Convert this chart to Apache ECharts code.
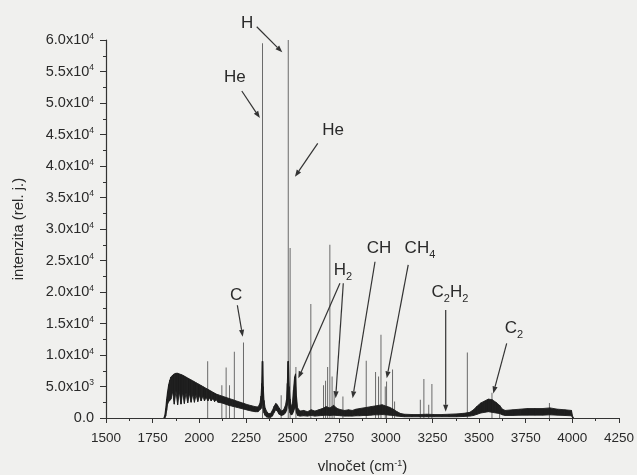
<!DOCTYPE html>
<html><head><meta charset="utf-8">
<script src="https://cdn.jsdelivr.net/npm/echarts@6/dist/echarts.min.js"></script>
<style>html,body{margin:0;padding:0;background:#f0f0ee}#c{width:637px;height:475px}</style>
</head><body><div id="c"></div>
<script>
// continuum band: wavenumber, upper edge and lower edge of the dense (noisy) trace
const bandX = [1810,1815,1820,1825,1830,1836,1842,1848,1857,1866,1875,1884,1893,1902,1911,1920,1929,1938,1947,1956,1965,1974,1983,1992,2001,2010,2019,2028,2037,2046,2055,2064,2073,2082,2091,2100,2120,2140,2160,2180,2200,2220,2240,2260,2280,2300,2315,2325,2331,2335,2338,2340,2343,2347,2353,2362,2372,2382,2392,2402,2410,2418,2428,2440,2452,2462,2468,2472,2476,2478,2482,2487,2493,2499,2505,2511,2516,2521,2527,2540,2560,2580,2600,2620,2640,2660,2680,2700,2720,2740,2760,2780,2800,2820,2840,2860,2880,2900,2920,2940,2960,2980,3000,3020,3040,3060,3080,3100,3140,3180,3220,3260,3300,3340,3380,3420,3450,3470,3490,3510,3530,3550,3570,3590,3610,3625,3640,3680,3720,3760,3800,3840,3880,3920,3960,3995,4002,4006];
const bandHigh = [0,400,1500,3000,4200,5300,6000,6500,6800,7000,7100,7100,7000,6900,6800,6650,6500,6350,6200,6050,5900,5750,5600,5450,5300,5150,5000,4850,4700,4550,4400,4250,4100,3950,3800,3700,3500,3300,3100,2900,2700,2500,2300,2100,1950,1800,1750,2300,3500,5500,9000,9000,5000,2800,1600,1000,700,700,1200,1900,2300,2100,1600,1100,1300,2000,3000,5500,9000,9000,5000,3000,1800,2200,4500,6500,7000,3500,1600,1100,1200,1000,1300,1100,1300,1500,1800,1600,2000,1500,1300,1200,1300,1200,1400,1500,1600,1700,1800,1900,2000,2100,1900,1700,1400,1000,700,600,550,550,600,550,550,600,650,750,900,1300,1900,2400,2700,3000,2900,2500,2000,1400,1200,1300,1400,1500,1500,1500,1600,1400,1300,1200,200,0];
const bandLow = [0,0,300,1200,2200,2600,2800,3000,4200,2200,4300,2100,4200,2200,4100,2300,4000,2400,3900,2500,3800,2500,3700,2600,3600,2700,3500,2700,3300,2700,3200,2700,3100,2600,2900,2500,2400,2200,2000,1850,1700,1550,1400,1250,1100,1000,1000,1300,1500,2000,3000,3000,1500,800,400,150,100,100,300,900,1300,1100,600,400,500,800,1200,2000,3000,3000,1500,800,500,600,1000,1500,1800,800,400,300,350,300,400,300,350,400,450,400,450,400,350,300,300,300,350,350,400,400,450,500,500,550,500,450,400,300,250,200,200,200,200,200,200,200,200,250,300,400,600,800,900,1000,900,800,700,500,400,400,450,450,450,450,500,450,400,350,0,0];
// sharp emission lines
const lineX = [2045,2121,2144,2162,2188,2237,2339,2439,2477,2487,2518,2598,2666,2677,2688,2700,2712,2723,2770,2895,2945,2961,2974,2997,3004,3036,3047,3185,3204,3230,3247,3437,3569,3610,3877];
const lineY = [9000,5200,8000,5200,10500,12000,59500,3600,60000,27000,8100,18100,5200,5900,8100,27500,6600,4200,3400,9100,7300,6600,13200,5000,5800,7700,2600,2900,6200,2100,5400,10400,4000,2000,2400];
// annotations: label, text anchor [x,y], arrows [[from],[to]] in data units
const annotations = [
  {t:'H', at:[2256,62700], arrows:[[[2308,62100],[2445,58050]]]},
  {t:'He', at:[2191,54100], arrows:[[[2228,51900],[2325,47600]]]},
  {t:'He', at:[2717,45700], arrows:[[[2635,43600],[2513,38300]]]},
  {t:'C', at:[2197,19400], arrows:[[[2204,17900],[2233,12900]]]},
  {t:'H{s|2}', at:[2770,23500], arrows:[[[2754,21400],[2531,6300]],[[2772,21400],[2731,3130]]]},
  {t:'CH', at:[2963,27000], arrows:[[[2942,24800],[2822,3130]]]},
  {t:'CH{s|4}', at:[3183,27000], arrows:[[[3120,24300],[3005,6300]]]},
  {t:'C{s|2}H{s|2}', at:[3344,20000], arrows:[[[3321,17150],[3321,1000]]]},
  {t:'C{s|2}', at:[3687,14300], arrows:[[[3648,11850],[3576,3900]]]}
];

function yLabel(v){
  if (v === 0) return '{a|0.0}';
  const e = Math.floor(Math.log10(v) + 1e-9);
  const m = (v / Math.pow(10, e)).toFixed(1);
  return '{a|' + m + 'x10}{s|' + e + '}';
}
// band segments table: [x0, low0, high0, x1, low1, high1]
const bandSegs = [];
for (let i = 0; i < bandX.length - 1; i++) {
  bandSegs.push([bandX[i], bandLow[i], bandHigh[i], bandX[i + 1], bandLow[i + 1], bandHigh[i + 1]]);
}
const chart = echarts.init(document.getElementById('c'));
const txt = '#2a2a2a';
const ink = '#1e1e1e';
chart.setOption({
  backgroundColor: '#f0f0ee',
  animation: false,
  grid: {left: 106, right: 18, top: 40, bottom: 57, outerBoundsMode: 'none', containLabel: false},
  xAxis: {
    type: 'value', min: 1500, max: 4250, interval: 250,
    axisLine: {lineStyle: {color: '#333', width: 1.2}},
    axisTick: {length: 5, lineStyle: {color: '#333'}},
    minorTick: {show: true, splitNumber: 2, length: 3, lineStyle: {color: '#333'}},
    splitLine: {show: false},
    axisLabel: {color: txt, fontFamily: 'Liberation Sans', fontSize: 13.5, margin: 13, formatter: v => String(v)},
    name: 'vlnočet (cm{s|-1})', nameLocation: 'middle', nameGap: 41,
    nameTextStyle: {color: txt, fontFamily: 'Liberation Sans', fontSize: 15,
      rich: {s: {fontSize: 9, verticalAlign: 'top', lineHeight: 10, fontFamily: 'Liberation Sans', color: txt}}}
  },
  yAxis: {
    type: 'value', min: 0, max: 60000, interval: 5000,
    axisLine: {show: true, lineStyle: {color: '#333', width: 1.2}},
    axisTick: {show: true, length: 6, lineStyle: {color: '#333'}},
    minorTick: {show: true, splitNumber: 2, length: 3, lineStyle: {color: '#333'}},
    splitLine: {show: false},
    axisLabel: {formatter: yLabel, margin: 12,
      rich: {a: {fontSize: 14.5, lineHeight: 16, color: txt, fontFamily: 'Liberation Sans'},
             s: {fontSize: 8.5, lineHeight: 8, verticalAlign: 'top', color: txt, fontFamily: 'Liberation Sans'}}},
    name: 'intenzita (rel. j.)', nameLocation: 'middle', nameGap: 80, nameRotate: 90,
    nameTextStyle: {color: txt, fontFamily: 'Liberation Sans', fontSize: 15}
  },
  series: [
    {type: 'bar', barWidth: 1, barGap: '-100%', z: 1,
     itemStyle: {color: '#6a6a6a'},
     data: lineX.map((x, i) => [x, lineY[i]])},
    {type: 'custom', z: 3, clip: true,
     encode: {x: [0, 3], y: [1, 2, 4, 5]},
     data: bandSegs,
     renderItem: function (params, api) {
       const a = api.coord([api.value(0), api.value(1)]);
       const b = api.coord([api.value(0), api.value(2)]);
       const c = api.coord([api.value(3), api.value(5)]);
       const d = api.coord([api.value(3), api.value(4)]);
       return {type: 'polygon', shape: {points: [a, b, c, d]},
         style: {fill: ink, stroke: ink, lineWidth: 0.9}};
     }}
  ]
});

const g = [];
const tStyle = {fontFamily: 'Liberation Sans', fontSize: 17, lineHeight: 17, fill: txt,
  rich: {s: {fontSize: 11, lineHeight: 11, verticalAlign: 'top', padding: [10, 0, 0, 0], fontFamily: 'Liberation Sans', fill: txt}}};
annotations.forEach(a => {
  const p = chart.convertToPixel({gridIndex: 0}, a.at);
  g.push({type: 'text', x: p[0], y: p[1], z: 100,
    style: Object.assign({}, tStyle, {text: a.t, align: 'center', verticalAlign: 'middle'})});
  a.arrows.forEach(ar => {
    const s = chart.convertToPixel({gridIndex: 0}, ar[0]);
    const e = chart.convertToPixel({gridIndex: 0}, ar[1]);
    const dx = e[0] - s[0], dy = e[1] - s[1], L = Math.hypot(dx, dy);
    const ux = dx / L, uy = dy / L, hl = 7, hw = 2.6;
    const bx = e[0] - ux * hl, by = e[1] - uy * hl;
    g.push({type: 'line', z: 100, shape: {x1: s[0], y1: s[1], x2: bx, y2: by},
      style: {stroke: '#333', lineWidth: 1.2}});
    g.push({type: 'polygon', z: 100, shape: {points: [[e[0], e[1]], [bx - uy * hw, by + ux * hw], [bx + uy * hw, by - ux * hw]]},
      style: {fill: '#333'}});
  });
});
chart.setOption({graphic: g});
</script></body></html>
